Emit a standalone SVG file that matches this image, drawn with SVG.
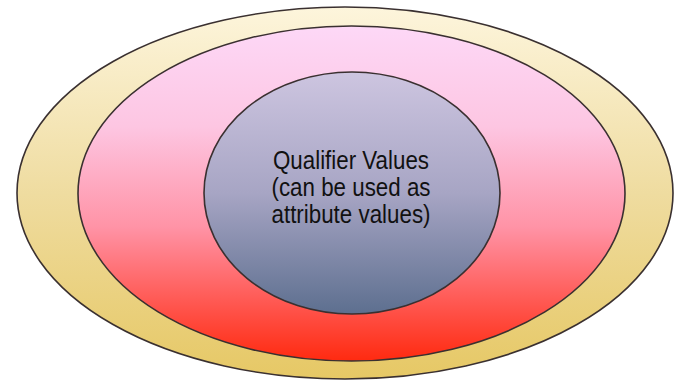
<svg xmlns="http://www.w3.org/2000/svg" width="674" height="383" viewBox="0 0 674 383">
  <defs>
    <linearGradient id="gOuter" x1="0" y1="0" x2="0" y2="1">
      <stop offset="0" stop-color="#fdf5dc"/>
      <stop offset="0.5" stop-color="#efdca0"/>
      <stop offset="1" stop-color="#e6c865"/>
    </linearGradient>
    <linearGradient id="gMid" x1="0" y1="0" x2="0" y2="1">
      <stop offset="0" stop-color="#fdd8f7"/>
      <stop offset="0.3" stop-color="#fdc6e2"/>
      <stop offset="0.6" stop-color="#ff93a6"/>
      <stop offset="1" stop-color="#ff2a10"/>
    </linearGradient>
    <linearGradient id="gInner" x1="0" y1="0" x2="0" y2="1">
      <stop offset="0" stop-color="#cdc5e0"/>
      <stop offset="0.5" stop-color="#a7a5c4"/>
      <stop offset="1" stop-color="#5d6f8f"/>
    </linearGradient>
    <style>
      .ring { stroke: #3a3030; stroke-width: 1.6; }
      .label { font-family: "Liberation Sans", Arial, sans-serif; font-size: 26px; fill: #111; text-anchor: middle; }
    </style>
  </defs>
  <rect width="674" height="383" fill="#ffffff"/>
  <g id="outer">
    <ellipse cx="345" cy="193" rx="328" ry="186" fill="url(#gOuter)" class="ring"/>
  </g>
  <g id="middle">
    <ellipse cx="351.5" cy="193.5" rx="273.5" ry="167.5" fill="url(#gMid)" class="ring"/>
  </g>
  <g id="inner">
    <ellipse cx="352" cy="193" rx="148" ry="121" fill="url(#gInner)" class="ring"/>
    <g transform="translate(351 0) scale(0.86 1)">
      <text class="label" x="0" y="169">Qualifier Values</text>
      <text class="label" x="0" y="196">(can be used as</text>
      <text class="label" x="0" y="223">attribute values)</text>
    </g>
  </g>
  <g id="connectors"/>
</svg>
